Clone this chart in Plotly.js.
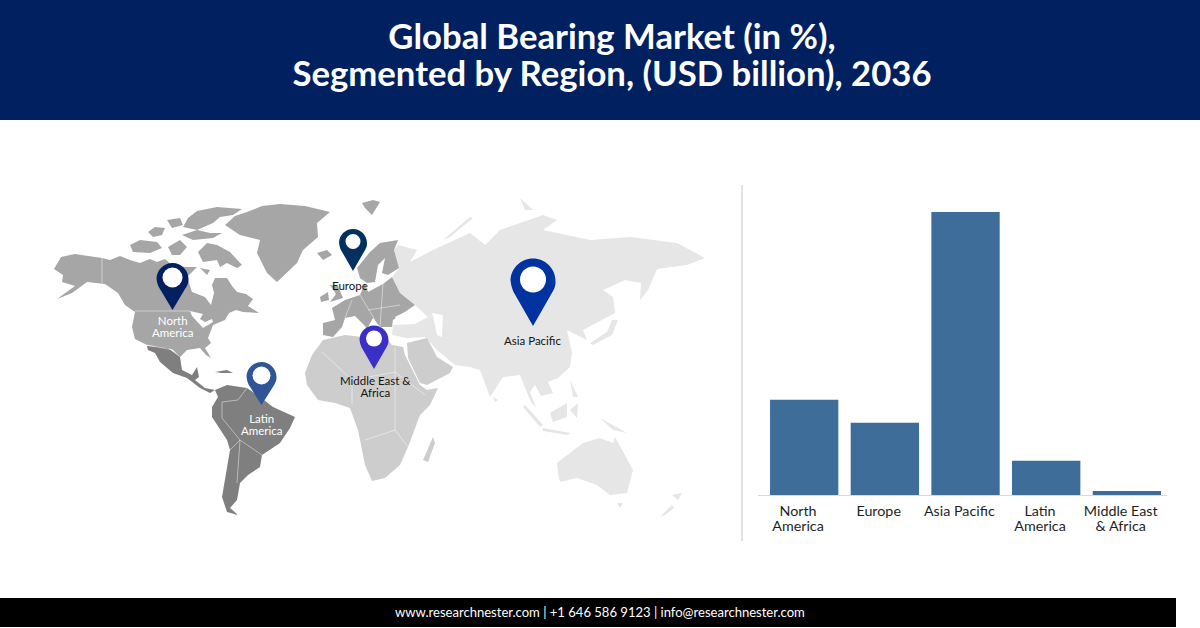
<!DOCTYPE html>
<html><head><meta charset="utf-8">
<script src="https://cdn.plot.ly/plotly-3.0.1.min.js"></script>
<style>html,body{margin:0;padding:0;background:#fff}#c{width:1200px;height:628px}</style></head>
<body><div id="c"></div>
<script>
// Bar chart data (share of market)
const categories = ["North America","Europe","Asia Pacific","Latin America","Middle East & Africa"];
const tickLabels = ["North<br>America","Europe","Asia Pacific","Latin<br>America","Middle East<br>& Africa"];
const values = [19.5,14.8,58,7,0.8];

// Map outlines, in picture units
const northAmerica = [[54,269],[58,262],[61,257],[75,254],[88,256],[102,258],[110,260],[120,256],[130,260],[140,263],[150,259],[157,262],[165,259],[173,266],[188,267],[197,267],[187,277],[192,292],[205,297],[209,302],[211,305],[214,293],[212,285],[215,278],[227,278],[232,286],[237,292],[246,294],[253,299],[248,306],[259,313],[243,312],[236,310],[229,313],[225,320],[213,325],[210,333],[208,338],[211,343],[205,348],[211,358],[206,355],[200,348],[187,350],[180,357],[173,350],[168,348],[157,347],[147,345],[135,339],[132,327],[135,312],[125,305],[118,293],[105,284],[87,282],[72,293],[57,299],[75,286],[62,282],[63,275]];
const arcticIslands = [
 [[198,252],[207,243],[217,245],[230,252],[242,265],[237,268],[227,263],[220,267],[217,260],[203,262]],
 [[130,245],[140,240],[157,242],[162,248],[150,253],[133,252]],
 [[148,232],[155,227],[165,228],[162,235],[153,237]],
 [[188,218],[197,211],[217,207],[242,209],[233,215],[220,217],[213,223],[197,230],[183,227]],
 [[182,235],[197,230],[210,233],[222,233],[213,238],[193,240]],
 [[167,220],[180,218],[183,225],[172,228]],
 [[168,247],[180,240],[187,247],[180,255],[172,255]],
 [[200,268],[210,270],[207,275]]
];
const greenland = [[225,225],[235,216],[247,212],[262,206],[280,204],[305,206],[330,212],[317,223],[318,237],[303,250],[297,263],[285,274],[277,282],[267,273],[257,253],[260,240],[240,235]];
const centralAmerica = [[147,346],[157,347],[168,348],[180,357],[182,370],[192,375],[197,367],[199,377],[195,380],[205,388],[215,390],[210,393],[200,388],[187,378],[173,373],[160,362],[155,353],[148,350]];
const southAmerica = [[215,390],[227,385],[247,388],[260,397],[273,407],[295,417],[290,428],[280,443],[262,455],[260,467],[248,475],[240,483],[237,500],[230,508],[238,515],[227,512],[222,497],[225,480],[230,450],[227,440],[212,417],[212,407],[218,397]];
const caribbean = [[215,372],[227,370],[233,373],[222,373]];
const scandinavia = [[360,278],[357,268],[370,252],[380,243],[398,240],[394,250],[399,268],[388,275],[382,273],[385,258],[378,265],[375,282],[367,283]];
const mainlandEurope = [[323,323],[335,320],[332,308],[345,300],[360,295],[365,283],[368,292],[383,284],[392,277],[400,293],[415,305],[403,313],[393,320],[392,327],[380,327],[373,318],[368,327],[372,335],[364,325],[355,316],[345,318],[342,327],[333,337],[323,335]];
const britain = [[330,285],[338,286],[343,298],[330,302],[336,294]];
const ireland = [[320,297],[328,292],[329,300],[321,302]];
const iceland = [[317,253],[327,250],[332,255],[323,260]];
const svalbard = [[362,203],[373,200],[380,202],[372,215],[365,208]];
const africa = [[323,340],[345,335],[362,337],[375,342],[388,340],[392,345],[403,347],[405,355],[420,385],[427,390],[438,388],[430,405],[420,415],[414,432],[408,447],[400,465],[385,478],[372,481],[365,465],[362,450],[358,430],[350,408],[335,403],[318,400],[307,385],[305,373],[312,355]];
const arabia = [[407,343],[427,338],[437,357],[453,367],[450,373],[427,385],[420,383],[408,358]];
const madagascar = [[423,460],[433,437],[435,443],[428,462]];
const asia = [[398,245],[417,250],[410,262],[433,250],[470,233],[485,245],[500,230],[543,215],[557,220],[543,230],[590,240],[630,237],[677,243],[705,258],[687,265],[657,269],[648,290],[640,300],[641,283],[625,280],[603,290],[613,297],[615,313],[583,330],[587,340],[567,330],[572,353],[570,367],[558,378],[548,382],[553,393],[541,396],[535,385],[530,392],[536,408],[531,402],[526,390],[520,375],[503,377],[490,397],[480,370],[470,367],[455,365],[437,350],[425,337],[407,338],[392,335],[393,325],[415,324],[428,317],[415,305],[400,293],[392,277],[399,268],[394,250]];
const asiaIslands = [
 [[612,320],[618,320],[612,335],[593,345],[590,343],[607,332]],
 [[525,405],[543,425],[540,427],[523,407]],
 [[550,413],[567,403],[567,417],[553,422]],
 [[543,428],[570,433],[568,435],[543,431]],
 [[570,410],[578,403],[577,418]],
 [[570,380],[578,397],[573,397]],
 [[600,418],[627,433],[613,430]],
 [[493,397],[498,400],[495,402]],
 [[557,463],[583,443],[600,438],[613,443],[615,437],[633,470],[627,493],[610,495],[597,485],[577,478],[560,482],[558,473]],
 [[617,503],[623,503],[620,508]],
 [[672,495],[682,493],[678,500]],
 [[660,517],[672,505],[674,508],[665,515]],
 [[443,240],[470,217],[473,218],[450,237]],
 [[520,198],[533,210],[525,210]]
];
const waters = [
 [[190,311],[203,314],[200,319],[205,322],[212,319],[213,322],[203,328],[197,322],[192,316]],
 [[395,317],[405,312],[420,318],[415,323],[398,323]],
 [[432,313],[443,315],[442,337],[437,335],[435,325]]
];
const borders = [
 [[102,258],[102,283]],[[135,311],[190,311]],
 [[147,345],[157,347],[173,350]],
 [[247,388],[238,400],[222,402],[222,418],[240,440],[262,455]],
 [[230,450],[240,440],[237,483]],
 [[322,352],[352,380],[352,404]],[[352,380],[395,372],[395,347]],[[395,372],[395,430],[365,440]],[[395,430],[408,447]],[[395,372],[425,395]],
 [[345,318],[352,300]],[[360,295],[375,320]],[[383,284],[380,327]],[[368,310],[400,305]]
];

// Pins: position of the head, tip height and radii
const pinNames = ["North America","Europe","Latin America","Middle East & Africa","Asia Pacific"];
const pinX = [172.5,353,261.5,374,533];
const pinHeadY = [279,243,377,340,281];
const pinTipY = [310,271,405,369,326];
const pinR = [16,14,15,14.5,22.5];
const pinHole = [10,7.5,9,8,13];
const pinColors = ["#00205f","#04305f","#2f5597","#3a30c8","#0033a0"];

const landTrace = (pts,color) => ({type:"scatter",mode:"lines",x:pts.map(p=>p[0]),y:pts.map(p=>p[1]),
  xaxis:"x2",yaxis:"y2",fill:"toself",fillcolor:color,line:{width:0,color:color},hoverinfo:"skip",showlegend:false});
const gA="#a6a6a6",gL="#7f7f7f",gM="#cdcdcd",gS="#e6e6e6";
const traces = [];
traces.push(landTrace(asia,gS));
asiaIslands.forEach(p=>traces.push(landTrace(p,gS)));
[northAmerica,greenland,...arcticIslands,scandinavia,mainlandEurope,britain,ireland,iceland,svalbard].forEach(p=>traces.push(landTrace(p,gA)));
[centralAmerica,southAmerica,caribbean].forEach(p=>traces.push(landTrace(p,gL)));
[africa,arabia,madagascar].forEach(p=>traces.push(landTrace(p,gM)));
waters.forEach(p=>traces.push(landTrace(p,"#ffffff")));
borders.forEach(p=>traces.push({type:"scatter",mode:"lines",x:p.map(q=>q[0]),y:p.map(q=>q[1]),xaxis:"x2",yaxis:"y2",
  line:{width:0.6,color:"rgba(255,255,255,0.75)"},hoverinfo:"skip",showlegend:false}));
traces.push({type:"bar",x:[0,1,2,3,4],y:values,width:0.847,offset:-0.347,marker:{color:"#3f6d9a"},hoverinfo:"skip",showlegend:false,text:categories,textposition:"none"});

function pinPath(cx,hy,ty,r){
  const k=r*0.55, s=r*0.8, py=hy+r*0.6;
  return `M ${cx-s} ${py} C ${cx-r} ${py-r*0.3} ${cx-r} ${hy-r*0.15} ${cx-r} ${hy} C ${cx-r} ${hy-k} ${cx-k} ${hy-r} ${cx} ${hy-r} C ${cx+k} ${hy-r} ${cx+r} ${hy-k} ${cx+r} ${hy} C ${cx+r} ${hy+r*0.15} ${cx+r} ${py-r*0.3} ${cx+s} ${py} L ${cx} ${ty} Z`;
}
const shapes = [
 {type:"rect",xref:"paper",yref:"paper",x0:0,x1:1,y0:1-120/628,y1:1,fillcolor:"#002060",line:{width:0},layer:"below"},
 {type:"rect",xref:"paper",yref:"paper",x0:0,x1:1176/1200,y0:1/628,y1:30/628,fillcolor:"#000000",line:{width:0},layer:"below"},
 {type:"line",xref:"paper",yref:"paper",x0:742/1200,x1:742/1200,y0:1-541/628,y1:1-185/628,line:{color:"#d9d9d9",width:1.5},layer:"below"}
];
pinX.forEach((x,i)=>{
  const hc=pinHeadY[i]-1.5;
  shapes.push({type:"path",xref:"x2",yref:"y2",path:pinPath(x,pinHeadY[i],pinTipY[i],pinR[i]),fillcolor:pinColors[i],line:{width:0},layer:"above"});
  shapes.push({type:"circle",xref:"x2",yref:"y2",x0:x-pinHole[i],x1:x+pinHole[i],y0:hc-pinHole[i],y1:hc+pinHole[i],fillcolor:"#ffffff",line:{width:0},layer:"above"});
});
const mapLabel=(t,x,y,c)=>({text:`<span style="font-size:11.5px">${t}</span>`,xref:"x2",yref:"y2",x:x,y:y,showarrow:false,xanchor:"center",yanchor:"middle",align:"center",font:{family:"Lato",size:9.6,color:c}});
const layout = {
 width:1200,height:628,margin:{l:0,r:0,t:0,b:0},paper_bgcolor:"#fff",plot_bgcolor:"rgba(0,0,0,0)",showlegend:false,
 font:{family:"Lato"},
 title:{text:'<span style="font-size:34.7px"><b>Global Bearing Market (in %),<br>Segmented by Region, (USD billion), 2036</b></span>',
   x:612/1200,xanchor:"center",y:1-48.5/628,yanchor:"middle",yref:"container",font:{family:"Lato",size:29,color:"#ffffff"}},
 xaxis:{domain:[758/1200,1167/1200],range:[-0.496,4.574],tickvals:[0,1,2,3,4],ticktext:tickLabels.map(t=>`<span style="font-size:14.3px">${t}</span>`),
   tickfont:{family:"Lato",size:11.6,color:"#1f1f1f"},ticks:"",ticklabelstandoff:6,showgrid:false,zeroline:false,showline:true,linecolor:"#d9d9d9",linewidth:1,fixedrange:true,automargin:false},
 yaxis:{domain:[1-495/628,1-212/628],range:[0,58],visible:false,fixedrange:true,automargin:false},
 xaxis2:{domain:[0,1],range:[0,1200],visible:false,fixedrange:true,anchor:"y2"},
 yaxis2:{domain:[0,1],range:[628,0],visible:false,fixedrange:true,anchor:"x2"},
 shapes:shapes,
 annotations:[
  mapLabel("North<br>America",172,326,"#ffffff"),
  mapLabel("Europe",350,285,"#111111"),
  mapLabel("Latin<br>America",261,424,"#ffffff"),
  mapLabel("Middle East &<br>Africa",375,386,"#111111"),
  mapLabel("Asia Pacific",532,340,"#111111"),
  {text:"www.researchnester.com | +1 646 586 9123 | info@researchnester.com",xref:"paper",yref:"paper",x:600/1200,y:1-612/628,showarrow:false,xanchor:"center",yanchor:"middle",font:{family:"Lato",size:13.05,color:"#ffffff"}}
 ]
};
Plotly.newPlot("c",traces,layout,{displayModeBar:false,staticPlot:true});
</script></body></html>
